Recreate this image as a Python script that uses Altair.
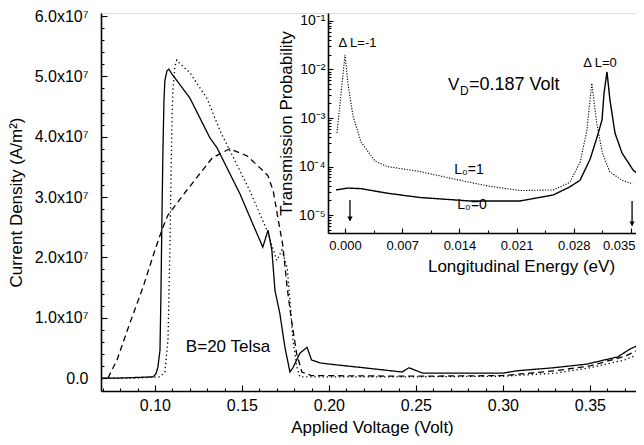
import altair as alt
import pandas as pd

FONT = "Liberation Sans"

# ---------------- main panel: current density (units of 1e7 A/m^2) vs applied voltage (V)
solid_v = [0.069, 0.080, 0.090, 0.0989, 0.1006, 0.1017, 0.1029, 0.1034, 0.1040, 0.1046, 0.1052,
           0.1057, 0.1069, 0.1080, 0.1095, 0.1201, 0.1316, 0.1356, 0.1489, 0.1563, 0.1620, 0.1650,
           0.1672, 0.1690, 0.1718, 0.1747, 0.1776, 0.1793, 0.1833, 0.1874, 0.1900, 0.1950, 0.2006,
           0.2200, 0.2420, 0.2460, 0.2540, 0.2700, 0.3000, 0.3080, 0.3290, 0.3480, 0.3660, 0.3730,
           0.3805]
solid_j = [0.0, 0.0, 0.01, 0.02, 0.07, 0.18, 0.46, 1.29, 2.61, 3.77, 4.6,
           4.93, 5.09, 5.12, 5.05, 4.64, 3.98, 3.82, 3.05, 2.55, 2.17, 2.45,
           2.12, 1.45, 1.07, 0.51, 0.10, 0.17, 0.41, 0.51, 0.30, 0.25, 0.23,
           0.17, 0.10, 0.17, 0.08, 0.08, 0.08, 0.12, 0.17, 0.23, 0.35, 0.48,
           0.58]

dotted_v = [0.069, 0.090, 0.1029, 0.1057, 0.1075, 0.1080, 0.1086, 0.1092, 0.1098, 0.1103, 0.1115,
            0.1126, 0.1140, 0.1201, 0.1300, 0.1374, 0.1546, 0.1644, 0.1700, 0.1730, 0.1760, 0.1776,
            0.1793, 0.1816, 0.1833, 0.1900, 0.2500, 0.3000, 0.3300, 0.3500, 0.3700, 0.3805]
dotted_j = [0.0, 0.0, 0.02, 0.10, 0.63, 1.29, 2.12, 3.27, 4.26, 4.76, 5.17,
            5.27, 5.22, 5.06, 4.63, 4.10, 3.10, 2.45, 1.95, 2.12, 1.83, 1.29,
            0.63, 0.18, 0.02, 0.02, 0.02, 0.03, 0.08, 0.17, 0.30, 0.42]

dashed_v = [0.0730, 0.0782, 0.0856, 0.0931, 0.1000, 0.1046, 0.1075, 0.1180, 0.1330, 0.1430, 0.1530,
            0.1620, 0.1650, 0.1680, 0.1710, 0.1735, 0.1760, 0.1785, 0.1815, 0.1845, 0.1900, 0.2500,
            0.3000, 0.3300, 0.3500, 0.3700, 0.3805]
dashed_j = [0.0, 0.30, 0.91, 1.50, 2.12, 2.50, 2.70, 3.10, 3.65, 3.80, 3.68,
            3.44, 3.35, 3.10, 2.60, 2.20, 1.50, 0.95, 0.40, 0.10, 0.04, 0.03,
            0.04, 0.12, 0.20, 0.36, 0.50]

main_x_ticks = [0.10, 0.15, 0.20, 0.25, 0.30, 0.35]
main_x_minor = [round(0.07 + 0.01 * k, 2) for k in range(31)]
main_y_ticks = [0, 1, 2, 3, 4, 5, 6]
main_y_minor = [round(0.2 * k, 1) for k in range(31)]

# ---------------- inset: transmission probability vs longitudinal energy (eV)
l0_0_e = [-0.0011, 0.00037, 0.00196, 0.0053, 0.0092, 0.0153, 0.0214, 0.0255, 0.0275, 0.02876,
          0.02998, 0.03084, 0.03145, 0.0317, 0.03206, 0.03243, 0.03304, 0.0339, 0.03525, 0.03647]
l0_0_t = [3.3e-5, 3.6e-5, 3.5e-5, 2.8e-5, 2.3e-5, 1.95e-5, 1.95e-5, 2.6e-5, 3.8e-5, 5.2e-5,
          1.4e-4, 4.0e-4, 9.1e-4, 3.3e-3, 8.9e-3, 2.3e-3, 4.9e-4, 1.9e-4, 8.5e-5, 5.8e-5]

l0_1_e = [-0.00098, 0.0, 0.00037, 0.00098, 0.00196, 0.00367, 0.00514, 0.00918, 0.0132, 0.0174,
          0.0214, 0.0255, 0.0275, 0.0288, 0.0296, 0.0302, 0.0308, 0.0315, 0.0324, 0.0339, 0.0352]
l0_1_t = [4.9e-4, 2.0e-2, 5.0e-3, 1.1e-3, 3.2e-4, 1.3e-4, 1.0e-4, 7.9e-5, 5.6e-5, 4.0e-5,
          3.2e-5, 3.3e-5, 4.7e-5, 1.26e-4, 5.6e-4, 5.2e-3, 7.9e-4, 1.9e-4, 7.8e-5, 5.2e-5, 4.4e-5]

inset_x_ticks = [0.0, 0.007, 0.014, 0.021, 0.028, 0.035]
inset_x_minor = [round(0.0035 * k, 4) for k in range(11)]
inset_y_ticks = [1e-5, 1e-4, 1e-3, 1e-2, 1e-1]
inset_y_minor = [m * 10.0 ** k for k in range(-6, 0) for m in range(2, 10)
                 if 4.3e-6 <= m * 10.0 ** k <= 0.145]

# arrows marking the energy window
arrow_e = [0.00061, 0.03513]
arrow_top = [2.04e-5, 1.95e-5]
arrow_bottom = [7.6e-6, 6.0e-6]


def series_df(xs, ys, name, xname, yname):
    return pd.DataFrame({xname: xs, yname: ys, "series": name, "i": list(range(len(xs)))})


main_df = pd.concat([
    series_df(solid_v, solid_j, "solid", "V", "J"),
    series_df(dotted_v, dotted_j, "dotted", "V", "J"),
    series_df(dashed_v, dashed_j, "dashed", "V", "J"),
])
inset_df = pd.concat([
    series_df(l0_0_e, l0_0_t, "L0=0", "E", "T"),
    series_df(l0_1_e, l0_1_t, "L0=1", "E", "T"),
])

W, H = 535, 378
IL, IH = 227, 220          # inset left edge and height inside the plot area (px)
mx = alt.Scale(domain=[0.069, 0.3765], nice=False, zero=False)
my = alt.Scale(domain=[-0.215, 6.05], nice=False, zero=False)
ix = alt.Scale(domain=[-0.00208, 0.03561], range=[IL, W], nice=False, zero=False)
iy = alt.Scale(type="log", domain=[4.27e-6, 0.146], range=[IH, 0], nice=False)


def tick_axis(orient, values, size, offset):
    return alt.Axis(orient=orient, values=values, ticks=True, tickSize=size, tickColor="black",
                    tickWidth=1.1, domain=False, labels=False, title=None, grid=False, offset=offset)


# ---------- main group
main_x_axis = alt.Axis(orient="bottom", values=main_x_ticks, format=".2f", ticks=False,
                       domainColor="black", domainWidth=1.6, labelFontSize=16, labelColor="black",
                       labelFont=FONT, labelPadding=6, title="Applied Voltage (Volt)",
                       titleFont=FONT, titleFontSize=17, titleFontWeight="normal",
                       titleColor="black", titlePadding=6, titleX=271, grid=False)
main_y_axis = alt.Axis(orient="left", values=main_y_ticks, ticks=False, domainColor="black",
                       domainWidth=1.6, labelFontSize=16, labelColor="black", labelFont=FONT,
                       labelPadding=13,
                       labelExpr="datum.value == 0 ? '0.0' : format(datum.value, '.1f') + 'x10\u2077'",
                       title="Current Density (A/m\u00b2)", titleFont=FONT, titleFontSize=17,
                       titleFontWeight="normal", titleColor="black", titlePadding=9, grid=False)

main_lines = alt.Chart(main_df).mark_line(color="black", clip=True).encode(
    x=alt.X("V:Q", scale=mx, axis=main_x_axis),
    y=alt.Y("J:Q", scale=my, axis=main_y_axis),
    strokeDash=alt.StrokeDash("series:N", legend=None,
                              scale=alt.Scale(domain=["solid", "dotted", "dashed"],
                                              range=[[1, 0], [1.3, 2.8], [6, 4]])),
    strokeWidth=alt.StrokeWidth("series:N", legend=None,
                                scale=alt.Scale(domain=["solid", "dotted", "dashed"],
                                                range=[1.3, 1.3, 1.1])),
    detail="series:N",
    order="i:Q",
)

main_major = alt.Chart(main_df).mark_point(opacity=0).encode(
    x=alt.X("V:Q", scale=mx, axis=tick_axis("bottom", main_x_ticks, 6, -6)),
    y=alt.Y("J:Q", scale=my, axis=tick_axis("left", main_y_ticks, 6, -6)),
)
main_minor = alt.Chart(main_df).mark_point(opacity=0).encode(
    x=alt.X("V:Q", scale=mx, axis=tick_axis("bottom", main_x_minor, 3, -3)),
    y=alt.Y("J:Q", scale=my, axis=tick_axis("left", main_y_minor, 3, -3)),
)

main_note = pd.DataFrame({"V": [0.142], "J": [0.51], "label": ["B=20 Telsa"]})
main_text = alt.Chart(main_note).mark_text(font=FONT, fontSize=17, color="black").encode(
    x=alt.X("V:Q", scale=mx, axis=None),
    y=alt.Y("J:Q", scale=my, axis=None),
    text="label:N",
)

main_group = alt.layer(main_lines, main_major, main_minor, main_text).resolve_axis(
    x="independent", y="independent")

# ---------- inset group
inset_x_axis = alt.Axis(orient="bottom", offset=-(H - IH), values=inset_x_ticks, format=".3f",
                        ticks=False, domainColor="black", domainWidth=1.6, labelFontSize=13,
                        labelColor="black", labelFont=FONT, labelPadding=6,
                        labelFlush=8, labelFlushOffset=4,
                        title="Longitudinal Energy (eV)", titleFont=FONT, titleFontSize=17,
                        titleFontWeight="normal", titleColor="black", titlePadding=6,
                        titleX=420, grid=False)
inset_y_axis = alt.Axis(orient="left", offset=-IL, values=inset_y_ticks, ticks=False,
                        domainColor="black", domainWidth=1.6, labelFontSize=14,
                        labelColor="black", labelFont=FONT, labelPadding=3,
                        labelExpr="'10' + ['\u207b\u00b9','\u207b\u00b2','\u207b\u00b3','\u207b\u2074','\u207b\u2075'][round(-log(datum.value)/LN10) - 1]",
                        title="Transmission Probability", titleFont=FONT, titleFontSize=17,
                        titleFontWeight="normal", titleColor="black", titlePadding=3, grid=False)

inset_lines = alt.Chart(inset_df).mark_line(color="black", clip=True).encode(
    x=alt.X("E:Q", scale=ix, axis=inset_x_axis),
    y=alt.Y("T:Q", scale=iy, axis=inset_y_axis),
    strokeDash=alt.StrokeDash("series:N", legend=None,
                              scale=alt.Scale(domain=["L0=0", "L0=1"], range=[[1, 0], [1.2, 1.5]])),
    strokeWidth=alt.StrokeWidth("series:N", legend=None,
                                scale=alt.Scale(domain=["L0=0", "L0=1"], range=[1.4, 1.1])),
    detail="series:N",
    order="i:Q",
)

inset_major = alt.Chart(inset_df).mark_point(opacity=0).encode(
    x=alt.X("E:Q", scale=ix, axis=tick_axis("bottom", inset_x_ticks, 5, -(H - IH) - 5)),
    y=alt.Y("T:Q", scale=iy, axis=tick_axis("left", inset_y_ticks, 5, -IL - 5)),
)
inset_minor = alt.Chart(inset_df).mark_point(opacity=0).encode(
    x=alt.X("E:Q", scale=ix, axis=tick_axis("bottom", inset_x_minor, 3, -(H - IH) - 3)),
    y=alt.Y("T:Q", scale=iy, axis=tick_axis("left", inset_y_minor, 3, -IL - 3)),
)

notes = pd.DataFrame({
    "E": [0.00153, 0.0312, 0.01518, 0.01555],
    "T": [0.035, 0.0136, 8.5e-5, 1.6e-5],
    "label": ["\u0394 L=-1", "\u0394 L=0", "L\u2080=1", "L\u2080=0"],
    "size": [13, 13, 14, 14],
})
inset_notes = alt.Chart(notes).mark_text(font=FONT, color="black").encode(
    x=alt.X("E:Q", scale=ix, axis=None),
    y=alt.Y("T:Q", scale=iy, axis=None),
    text="label:N",
    size=alt.Size("size:Q", scale=None, legend=None),
)

vd = pd.DataFrame({"E": [0.0126], "T": [0.0048]})
vd_base = alt.Chart(vd).encode(
    x=alt.X("E:Q", scale=ix, axis=None),
    y=alt.Y("T:Q", scale=iy, axis=None),
)
vd_v = vd_base.mark_text(font=FONT, fontSize=17, align="left", color="black", text="V")
vd_d = vd_base.mark_text(font=FONT, fontSize=12, align="left", color="black", text="D", dx=12, dy=6)
vd_rest = vd_base.mark_text(font=FONT, fontSize=18, align="left", color="black",
                            text="=0.187 Volt", dx=21)

arrows = pd.DataFrame({"E": arrow_e, "T": arrow_top, "T2": arrow_bottom})
arrow_shaft = alt.Chart(arrows).mark_rule(color="black", strokeWidth=1.3).encode(
    x=alt.X("E:Q", scale=ix, axis=None),
    y=alt.Y("T:Q", scale=iy, axis=None),
    y2="T2:Q",
)
arrow_head = alt.Chart(arrows).mark_point(shape="triangle-down", filled=True, color="black",
                                          size=28, opacity=1, yOffset=-2).encode(
    x=alt.X("E:Q", scale=ix, axis=None),
    y=alt.Y("T2:Q", scale=iy, axis=None),
)

inset_group = alt.layer(inset_lines, inset_major, inset_minor, inset_notes, vd_v, vd_d, vd_rest,
                        arrow_shaft, arrow_head).resolve_axis(x="independent", y="independent")

chart = alt.layer(main_group, inset_group).resolve_scale(
    x="independent", y="independent", strokeDash="independent", strokeWidth="independent"
).properties(
    width=W, height=H, autosize="none",
    padding={"left": 93, "top": 5, "right": 0, "bottom": 46},
).configure_view(stroke="black", strokeWidth=1.6).configure(background="white")

chart.save("out.html", embed_options={"renderer": "svg", "actions": False})
